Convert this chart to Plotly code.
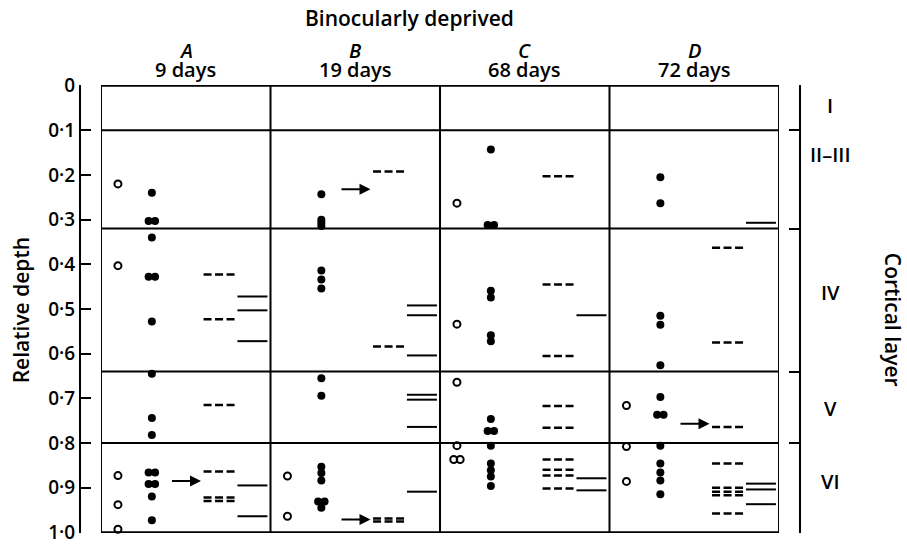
import plotly.graph_objects as go

# ---------------- data ----------------
panels = ["A", "B", "C", "D"]
durations = ["9 days", "19 days", "68 days", "72 days"]
layer_names = ["I", "II–III", "IV", "V", "VI"]
layer_label_depth = [0.045, 0.155, 0.463, 0.722, 0.886]
layer_bounds = [0.0, 0.10, 0.32, 0.64, 0.80, 1.0]
depth_ticks = [0.0, 0.1, 0.2, 0.3, 0.4, 0.5, 0.6, 0.7, 0.8, 0.9, 1.0]
depth_labels = ["0", "0·1", "0·2", "0·3", "0·4", "0·5", "0·6", "0·7", "0·8", "0·9", "1·0"]

open_A = [0.22, 0.403, 0.873, 0.938, 0.993]
filled_A = [0.24, 0.303, 0.303, 0.34, 0.428, 0.428, 0.528, 0.645, 0.744, 0.782,
            0.866, 0.866, 0.892, 0.892, 0.92, 0.973]
dashed_A = [0.423, 0.523, 0.715, 0.864, 0.922, 0.930]
solid_A = [0.472, 0.503, 0.572, 0.895, 0.964]
arrow_A = [0.885]

open_B = [0.874, 0.964]
filled_B = [0.243, 0.300, 0.307, 0.314, 0.414, 0.434, 0.454, 0.655, 0.694,
            0.853, 0.867, 0.884, 0.931, 0.931, 0.945]
dashed_B = [0.192, 0.584, 0.969, 0.976]
solid_B = [0.492, 0.514, 0.604, 0.692, 0.703, 0.764, 0.909]
arrow_B = [0.232, 0.971]

open_C = [0.263, 0.534, 0.664, 0.806, 0.837, 0.837]
filled_C = [0.143, 0.312, 0.312, 0.459, 0.474, 0.559, 0.572, 0.746, 0.773, 0.773,
            0.806, 0.846, 0.861, 0.875, 0.896]
dashed_C = [0.203, 0.445, 0.605, 0.717, 0.766, 0.837, 0.860, 0.873, 0.902]
solid_C = [0.514, 0.879, 0.906]
arrow_C = []

open_D = [0.716, 0.808, 0.886]
filled_D = [0.205, 0.263, 0.515, 0.535, 0.626, 0.697, 0.737, 0.737, 0.806,
            0.846, 0.866, 0.884, 0.915]
dashed_D = [0.363, 0.575, 0.764, 0.846, 0.900, 0.909, 0.917, 0.958]
solid_D = [0.307, 0.891, 0.904, 0.937]
arrow_D = [0.757]

open_cells = [open_A, open_B, open_C, open_D]
filled_cells = [filled_A, filled_B, filled_C, filled_D]
dashed_cells = [dashed_A, dashed_B, dashed_C, dashed_D]
solid_cells = [solid_A, solid_B, solid_C, solid_D]
arrow_cells = [arrow_A, arrow_B, arrow_C, arrow_D]

# ---------------- layout constants ----------------
FONT = "'Open Sans', Lato, sans-serif"
FWEIGHT = 600
COL_OPEN = 0.10
COL_FILLED = 0.30
DASH_SPAN = (0.605, 0.79)
SOLID_SPAN = (0.805, 0.982)
ARROW_SPAN = (0.41, 0.59)
PAIR_OFF = 0.019


def tfont(size=19):
    return dict(family=FONT, size=size, color="black", weight=FWEIGHT)


def spread(values, centre):
    """x positions: identical depths are placed side by side."""
    xs = []
    counts = {}
    for v in values:
        counts[v] = counts.get(v, 0) + 1
    seen = {}
    for v in values:
        n = counts[v]
        k = seen.get(v, 0)
        seen[v] = k + 1
        xs.append(centre + (k - (n - 1) / 2) * 2 * PAIR_OFF)
    return xs


def segments(values, i, span):
    xs, ys = [], []
    for v in values:
        xs += [i + span[0], i + span[1], None]
        ys += [v, v, None]
    return xs, ys


fig = go.Figure()

for i in range(4):
    ox = spread(open_cells[i], i + COL_OPEN)
    fig.add_trace(go.Scatter(x=ox, y=open_cells[i], mode="markers",
                             marker=dict(symbol="circle-open", size=7, color="black",
                                         line=dict(width=2, color="black")),
                             showlegend=False, hoverinfo="skip", cliponaxis=False))
    fx = spread(filled_cells[i], i + COL_FILLED)
    fig.add_trace(go.Scatter(x=fx, y=filled_cells[i], mode="markers",
                             marker=dict(symbol="circle", size=8, color="black"),
                             showlegend=False, hoverinfo="skip", cliponaxis=False))
    dx, dy = segments(dashed_cells[i], i, DASH_SPAN)
    fig.add_trace(go.Scatter(x=dx, y=dy, mode="lines",
                             line=dict(color="black", width=2.5, dash="8px,3.5px"),
                             showlegend=False, hoverinfo="skip"))
    sx, sy = segments(solid_cells[i], i, SOLID_SPAN)
    fig.add_trace(go.Scatter(x=sx, y=sy, mode="lines",
                             line=dict(color="black", width=2),
                             showlegend=False, hoverinfo="skip"))

# dummy trace to carry the right-hand layer axis
fig.add_trace(go.Scatter(x=[None], y=[None], yaxis="y2", showlegend=False, hoverinfo="skip"))

shapes = []
shapes.append(dict(type="rect", xref="x", yref="y", x0=0, x1=4, y0=0, y1=1,
                   line=dict(color="black", width=2)))
for i in range(1, 4):
    shapes.append(dict(type="line", xref="x", yref="y", x0=i, x1=i, y0=0, y1=1,
                       line=dict(color="black", width=2)))
for b in layer_bounds[1:-1]:
    shapes.append(dict(type="line", xref="x", yref="y", x0=0, x1=4, y0=b, y1=b,
                       line=dict(color="black", width=2)))


def label(text, x, y, xref="paper", yref="paper", angle=0, size=19):
    return dict(text=text, xref=xref, yref=yref, x=x, y=y, textangle=angle,
                xanchor="center", yanchor="middle", showarrow=False,
                font=tfont(size))


annotations = [label("Binocularly deprived", 0.457, 1.150, size=21)]
for i in range(4):
    annotations.append(label("<i>%s</i>" % panels[i], i + 0.5, 1.078, xref="x", size=20))
    annotations.append(label(durations[i], i + 0.5, 1.034, xref="x", size=20))
    for d in arrow_cells[i]:
        annotations.append(dict(text="", xref="x", yref="y", axref="x", ayref="y",
                                x=i + ARROW_SPAN[1], y=d, ax=i + ARROW_SPAN[0], ay=d,
                                showarrow=True, arrowhead=2, arrowsize=1.1,
                                arrowwidth=2, arrowcolor="black", standoff=0,
                                startstandoff=0))
for name, d in zip(layer_names, layer_label_depth):
    annotations.append(label(name, 1.042, d, yref="y", size=20))
annotations.append(label("Cortical layer", 1.129, 0.476, angle=90, size=21))
annotations.append(label("Relative depth", -0.082, 0.497, angle=-90, size=21))

fig.update_layout(
    width=907, height=546,
    margin=dict(l=80, r=107, t=85, b=13, autoexpand=False),
    paper_bgcolor="white", plot_bgcolor="white",
    xaxis=dict(domain=[21 / 720, 699 / 720], range=[0, 4], visible=False,
               fixedrange=True, automargin=False),
    yaxis=dict(range=[1.0015, -0.0015], anchor="free", position=0, showline=True,
               linecolor="black", linewidth=2, ticks="inside", ticklen=10,
               tickwidth=2, tickcolor="black", tickvals=depth_ticks,
               ticktext=depth_labels, showgrid=False, zeroline=False,
               ticklabeloverflow="allow", automargin=False, tickfont=tfont(19)),
    yaxis2=dict(range=[1.0015, -0.0015], overlaying="y", side="right", anchor="free",
                position=1, showline=True, linecolor="black", linewidth=2,
                ticks="inside", ticklen=10, tickwidth=2, tickcolor="black",
                tickvals=layer_bounds, showticklabels=False, showgrid=False,
                zeroline=False, automargin=False),
    shapes=shapes,
    annotations=annotations,
    showlegend=False,
)

fig.write_html("out.html")
